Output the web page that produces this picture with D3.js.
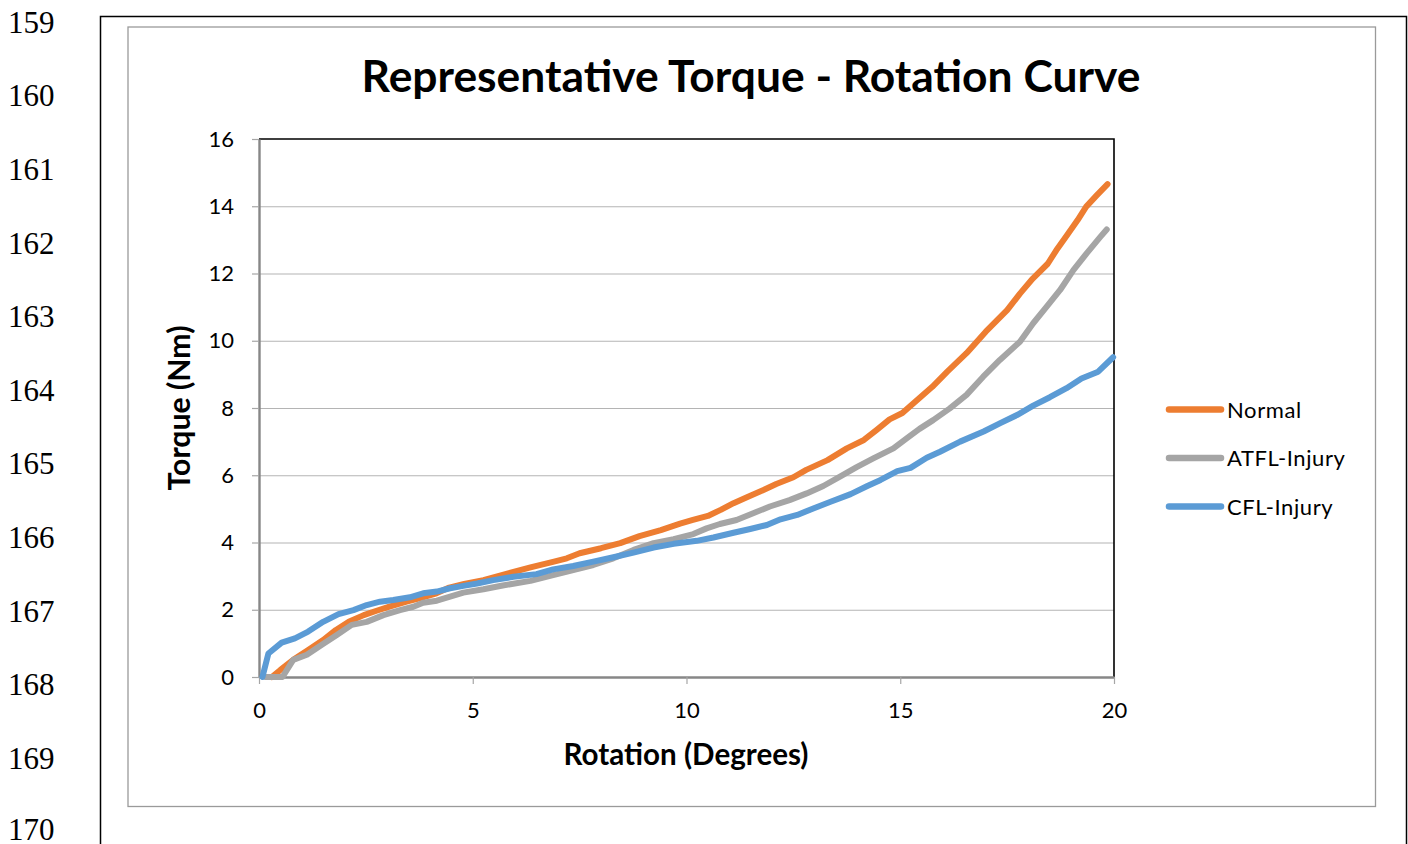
<!DOCTYPE html>
<html>
<head>
<meta charset="utf-8">
<script src="https://cdn.jsdelivr.net/npm/d3@7"></script>
<style>
  html, body { margin: 0; padding: 0; background: #fff; }
  svg { display: block; }
</style>
</head>
<body>
<div id="chart"></div>
<script>
// page line numbers down the left margin
var lineNumbers = [159, 160, 161, 162, 163, 164, 165, 166, 167, 168, 169, 170];

var yTicks = [0, 2, 4, 6, 8, 10, 12, 14, 16];
var xTicks = [0, 5, 10, 15, 20];

var seriesNames = ["Normal", "ATFL-Injury", "CFL-Injury"];
var seriesColors = ["#ED7D31", "#A5A5A5", "#5B9BD5"];

// values (rotation in degrees, torque in Nm)
var normalRotation = [0.3, 0.5, 0.8, 1.15, 1.5, 1.8, 2.1, 2.45, 2.75, 3.05, 3.45, 3.75, 4.15, 4.45, 4.8, 5.25, 5.7, 6.35, 6.9, 7.2, 7.5, 8.0, 8.45, 8.9, 9.4, 9.85, 10.15, 10.5, 10.8, 11.1, 11.4, 11.8, 12.1, 12.5, 12.8, 13.3, 13.75, 14.15, 14.45, 14.75, 15.05, 15.45, 15.75, 16.1, 16.55, 17.0, 17.5, 17.8, 18.1, 18.45, 18.65, 18.9, 19.15, 19.35, 19.6, 19.85];
var normalTorque = [0, 0.21, 0.51, 0.8, 1.1, 1.4, 1.64, 1.84, 1.97, 2.09, 2.24, 2.34, 2.49, 2.66, 2.77, 2.88, 3.04, 3.26, 3.43, 3.53, 3.68, 3.83, 3.98, 4.19, 4.37, 4.56, 4.67, 4.79, 4.97, 5.17, 5.34, 5.56, 5.74, 5.94, 6.16, 6.45, 6.8, 7.05, 7.35, 7.66, 7.85, 8.3, 8.63, 9.08, 9.63, 10.27, 10.91, 11.4, 11.85, 12.29, 12.69, 13.14, 13.59, 13.99, 14.33, 14.66];

var atflRotation = [0.15, 0.55, 0.8, 1.12, 1.47, 1.82, 2.17, 2.52, 2.91, 3.3, 3.61, 3.84, 4.16, 4.47, 4.78, 5.25, 5.7, 6.35, 6.88, 7.35, 7.82, 8.29, 8.76, 9.23, 9.7, 10.16, 10.47, 10.78, 11.17, 11.56, 11.95, 12.41, 12.81, 13.2, 13.59, 13.98, 14.37, 14.84, 15.15, 15.45, 15.77, 16.16, 16.55, 16.94, 17.33, 17.8, 18.11, 18.43, 18.74, 19.05, 19.36, 19.68, 19.83];
var atflTorque = [0, 0, 0.51, 0.66, 0.96, 1.25, 1.55, 1.64, 1.84, 1.99, 2.09, 2.21, 2.27, 2.39, 2.51, 2.61, 2.72, 2.86, 3.03, 3.18, 3.33, 3.53, 3.78, 3.98, 4.1, 4.25, 4.42, 4.55, 4.67, 4.87, 5.07, 5.26, 5.46, 5.68, 5.96, 6.24, 6.5, 6.8, 7.1, 7.38, 7.64, 7.99, 8.39, 8.93, 9.43, 9.97, 10.52, 11.02, 11.51, 12.1, 12.6, 13.09, 13.31];

var cflRotation = [0.08, 0.22, 0.53, 0.84, 1.15, 1.5, 1.86, 2.21, 2.52, 2.83, 3.14, 3.53, 3.84, 4.16, 4.47, 4.78, 5.1, 5.48, 5.95, 6.49, 6.88, 7.35, 7.82, 8.29, 8.76, 9.23, 9.7, 10.24, 10.63, 11.1, 11.49, 11.88, 12.2, 12.59, 12.98, 13.37, 13.84, 14.23, 14.54, 14.93, 15.24, 15.62, 15.93, 16.4, 16.95, 17.34, 17.73, 18.11, 18.5, 18.89, 19.24, 19.63, 19.98];
var cflTorque = [0, 0.7, 1.02, 1.15, 1.35, 1.64, 1.87, 1.99, 2.14, 2.24, 2.29, 2.37, 2.49, 2.54, 2.64, 2.71, 2.78, 2.88, 2.98, 3.06, 3.2, 3.3, 3.43, 3.56, 3.7, 3.85, 3.96, 4.05, 4.15, 4.29, 4.4, 4.52, 4.69, 4.82, 5.02, 5.21, 5.44, 5.68, 5.86, 6.12, 6.22, 6.52, 6.7, 7.0, 7.3, 7.55, 7.79, 8.07, 8.32, 8.59, 8.88, 9.08, 9.51];

var width = 1408;
var height = 844;
var sans = "Lato, 'Open Sans', sans-serif";

var svg = d3.select("#chart")
  .append("svg")
  .attr("width", width)
  .attr("height", height);

// line numbers of the document page
svg.selectAll(".lineno")
  .data(lineNumbers)
  .enter()
  .append("text")
  .attr("class", "lineno")
  .attr("x", 8)
  .attr("y", function(d, i) { return Math.min(32.7 + i * 73.6, 840); })
  .attr("font-family", "'Liberation Serif', 'Times New Roman', serif")
  .attr("font-size", 31)
  .attr("fill", "#000")
  .text(function(d) { return d; });

// outer black box (goes off the bottom of the page)
svg.append("path")
  .attr("d", "M100.5,850 V16.5 H1406.5 V850")
  .attr("fill", "none")
  .attr("stroke", "#000")
  .attr("stroke-width", 1.5);

// chart area frame
svg.append("rect")
  .attr("x", 128)
  .attr("y", 27)
  .attr("width", 1247.5)
  .attr("height", 779.5)
  .attr("fill", "#fff")
  .attr("stroke", "#9a9a9a")
  .attr("stroke-width", 1.3);

var x = d3.scaleLinear().domain([0, 20]).range([259, 1114]);
var y = d3.scaleLinear().domain([0, 16]).range([677, 139]);

// shrink/grow a text's font size so it spans the wanted width
function fitWidth(sel, w) {
  var cur = sel.node().getComputedTextLength();
  var fs = parseFloat(sel.attr("font-size"));
  sel.attr("font-size", fs * w / cur);
}

// gridlines
svg.append("g")
  .attr("class", "grid")
  .attr("transform", "translate(" + x(0) + ",0)")
  .call(d3.axisLeft(y).tickValues(yTicks.slice(1, -1)).tickSize(-(x(20) - x(0))).tickFormat(""))
  .call(function(g) { g.select(".domain").remove(); })
  .selectAll("line")
  .attr("stroke", "#b4b4b4")
  .attr("stroke-width", 1.2);

// top and right border of the plot (black)
svg.append("path")
  .attr("d", "M" + x(0) + "," + y(16) + " H" + x(20) + " V" + y(0))
  .attr("fill", "none")
  .attr("stroke", "#000")
  .attr("stroke-width", 1.6);

// y axis
var yAxis = svg.append("g")
  .attr("transform", "translate(" + x(0) + ",0)")
  .call(d3.axisLeft(y).tickValues(yTicks).tickSize(7).tickPadding(18).tickSizeOuter(0));
yAxis.select(".domain").attr("stroke", "#878787").attr("stroke-width", 2.4);
yAxis.selectAll(".tick line").attr("stroke", "#a6a6a6").attr("stroke-width", 1.2);
yAxis.selectAll(".tick text")
  .attr("font-family", sans)
  .attr("font-size", 22)
  .attr("fill", "#000");

// x axis
var xAxis = svg.append("g")
  .attr("transform", "translate(0," + y(0) + ")")
  .call(d3.axisBottom(x).tickValues(xTicks).tickSize(7).tickPadding(18).tickSizeOuter(0));
xAxis.select(".domain").attr("stroke", "#878787").attr("stroke-width", 2.4);
xAxis.selectAll(".tick line").attr("stroke", "#a6a6a6").attr("stroke-width", 1.2);
xAxis.selectAll(".tick text")
  .attr("font-family", sans)
  .attr("font-size", 22)
  .attr("fill", "#000");

// series lines
var series = [
  { name: seriesNames[0], color: seriesColors[0], xs: normalRotation, ys: normalTorque },
  { name: seriesNames[1], color: seriesColors[1], xs: atflRotation, ys: atflTorque },
  { name: seriesNames[2], color: seriesColors[2], xs: cflRotation, ys: cflTorque }
];

var line = d3.line()
  .x(function(d) { return x(d[0]); })
  .y(function(d) { return y(d[1]); });

svg.selectAll(".series")
  .data(series)
  .enter()
  .append("path")
  .attr("class", "series")
  .attr("d", function(s) { return line(d3.zip(s.xs, s.ys)); })
  .attr("fill", "none")
  .attr("stroke", function(s) { return s.color; })
  .attr("stroke-width", 6)
  .attr("stroke-linejoin", "round")
  .attr("stroke-linecap", "round");

// title
var title = svg.append("text")
  .attr("x", 751)
  .attr("y", 92)
  .attr("text-anchor", "middle")
  .attr("font-family", sans)
  .attr("font-weight", "bold")
  .attr("font-size", 40)
  .attr("fill", "#000")
  .text("Representative Torque - Rotation Curve");
fitWidth(title, 779);

// axis titles
var xTitle = svg.append("text")
  .attr("x", 686)
  .attr("y", 765)
  .attr("text-anchor", "middle")
  .attr("font-family", sans)
  .attr("font-weight", "bold")
  .attr("font-size", 24)
  .attr("fill", "#000")
  .text("Rotation (Degrees)");
fitWidth(xTitle, 245);

var yTitle = svg.append("text")
  .attr("transform", "translate(190,408) rotate(-90)")
  .attr("text-anchor", "middle")
  .attr("font-family", sans)
  .attr("font-weight", "bold")
  .attr("font-size", 24)
  .attr("fill", "#000")
  .text("Torque (Nm)");
fitWidth(yTitle, 165);

// legend
var legend = svg.selectAll(".legend")
  .data(series)
  .enter()
  .append("g")
  .attr("class", "legend")
  .attr("transform", function(d, i) { return "translate(1167," + (409.5 + i * 48.5) + ")"; });

legend.append("line")
  .attr("x1", 2)
  .attr("x2", 54)
  .attr("y1", 0)
  .attr("y2", 0)
  .attr("stroke", function(d) { return d.color; })
  .attr("stroke-width", 6.5)
  .attr("stroke-linecap", "round");

legend.append("text")
  .attr("x", 60)
  .attr("y", 8)
  .attr("font-family", sans)
  .attr("font-size", 22)
  .attr("letter-spacing", 0.6)
  .attr("fill", "#000")
  .text(function(d) { return d.name; });
</script>
</body>
</html>
